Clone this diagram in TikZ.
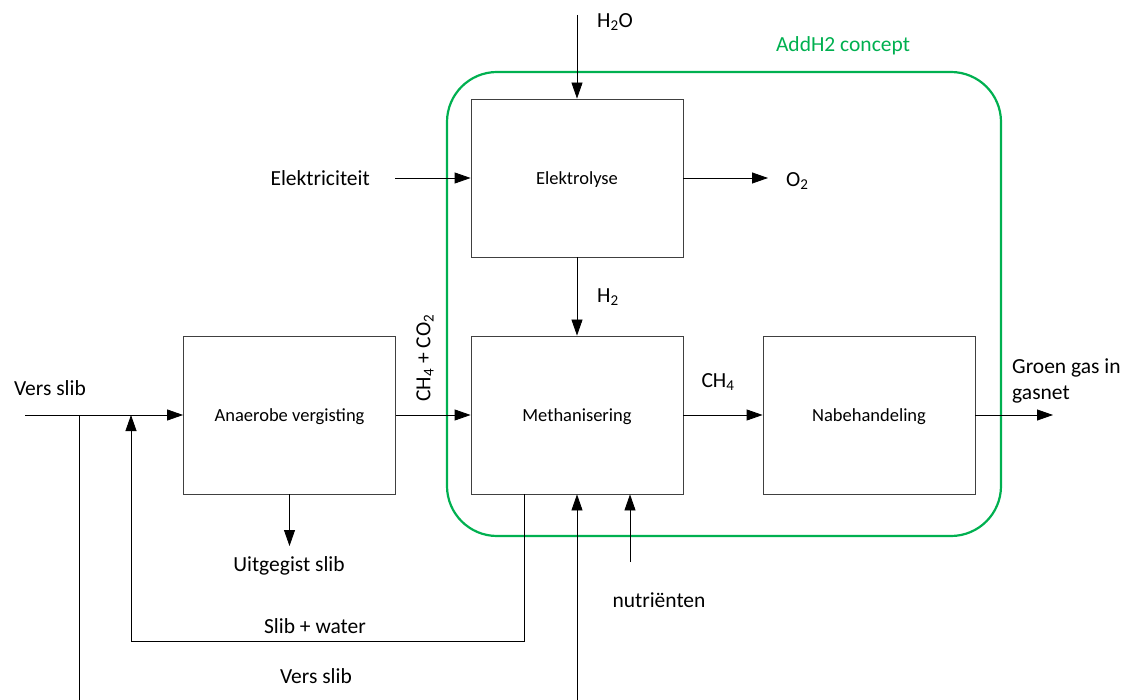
\documentclass[tikz,border=0pt]{standalone}
\usepackage{fontspec}
\setmainfont{Carlito}
\usetikzlibrary{arrows.meta}

\definecolor{addgreen}{RGB}{0,176,80}
\tikzset{
  proces/.style={draw=black!75, line width=0.8pt, minimum width=212pt, minimum height=158pt,
    inner sep=0pt, text depth=0pt, font=\fontsize{18.5}{22}\selectfont},
  stroom/.style={line width=0.8pt, -{Triangle[length=16pt,width=11pt]}},
  lijn/.style={line width=0.8pt},
  label/.style={font=\fontsize{21.5}{26}\selectfont, inner sep=1pt}
}

\begin{document}
\begin{tikzpicture}[x=1pt,y=-1pt]
\useasboundingbox (0,0) rectangle (1129,700);

% AddH2 concept frame
\draw[addgreen, line width=2.2pt, rounded corners=50pt] (447,72) rectangle (1001,536);
\node[label, text=addgreen] (concept) at (843,46) {AddH2 concept};

% Process blocks
\node[proces] (elektrolyse) at (577,178) {Elektrolyse};
\node[proces] (methanisering) at (577,415) {Methanisering};
\node[proces] (vergisting) at (289.5,415) {Anaerobe vergisting};
\node[proces] (nabehandeling) at (869,415) {Nabehandeling};

% Free ends
\coordinate (h2oin) at (577,15);
\coordinate (elin) at (395,178);
\coordinate (o2uit) at (768,178);
\coordinate (versin) at (25,415);
\coordinate (splits) at (79,415);
\coordinate (splitsonder) at (79,700);
\coordinate (retour) at (131,415);
\coordinate (retourhoek) at (131,641);
\coordinate (slibhoek) at (524,641);
\coordinate (slibuit) at (524,494);
\coordinate (versonder) at (577,700);
\coordinate (nutrin) at (630,562);
\coordinate (gasuit) at (1053,415);
\coordinate (uitgegist) at (289.5,546);

% Labels
\node[label, anchor=west] (h2o) at (596,22) {H\textsubscript{2}O};
\node[label, anchor=east] (elektriciteit) at (371,178) {Elektriciteit};
\node[label, anchor=west] (o2) at (785,181) {O\textsubscript{2}};
\node[label, anchor=west] (h2) at (596,297) {H\textsubscript{2}};
\node[label, rotate=90] (ch4co2) at (425,358) {CH\textsubscript{4} + CO\textsubscript{2}};
\node[label] (ch4) at (718,382) {CH\textsubscript{4}};
\node[label, anchor=west, align=left] (groengas) at (1011,381) {Groen gas in\\gasnet};
\node[label] (versslib) at (50,388) {Vers slib};
\node[label] (uitgegistslib) at (289,566) {Uitgegist slib};
\node[label] (slibwater) at (315,626) {Slib + water};
\node[label] (versslib2) at (316,676) {Vers slib};
\node[label] (nutrienten) at (659,600) {nutriënten};

% Streams
\draw[stroom] (h2oin) -- (elektrolyse.north);
\draw[stroom] (elin) -- (elektrolyse.west);
\draw[stroom] (elektrolyse.east) -- (o2uit);
\draw[stroom] (elektrolyse.south) -- (methanisering.north);
\draw[stroom] (vergisting.east) -- (methanisering.west);
\draw[stroom] (methanisering.east) -- (nabehandeling.west);
\draw[stroom] (nabehandeling.east) -- (gasuit);
\draw[stroom] (versin) -- (vergisting.west);
\draw[lijn] (splits) -- (splitsonder);
\draw[stroom] (vergisting.south) -- (uitgegist);
\draw[stroom] (slibuit) -- (slibhoek) -- (retourhoek) -- (retour);
\draw[stroom] (versonder) -- (methanisering.south);
\draw[stroom] (nutrin) -- (methanisering.south -| nutrin);

\end{tikzpicture}
\end{document}
